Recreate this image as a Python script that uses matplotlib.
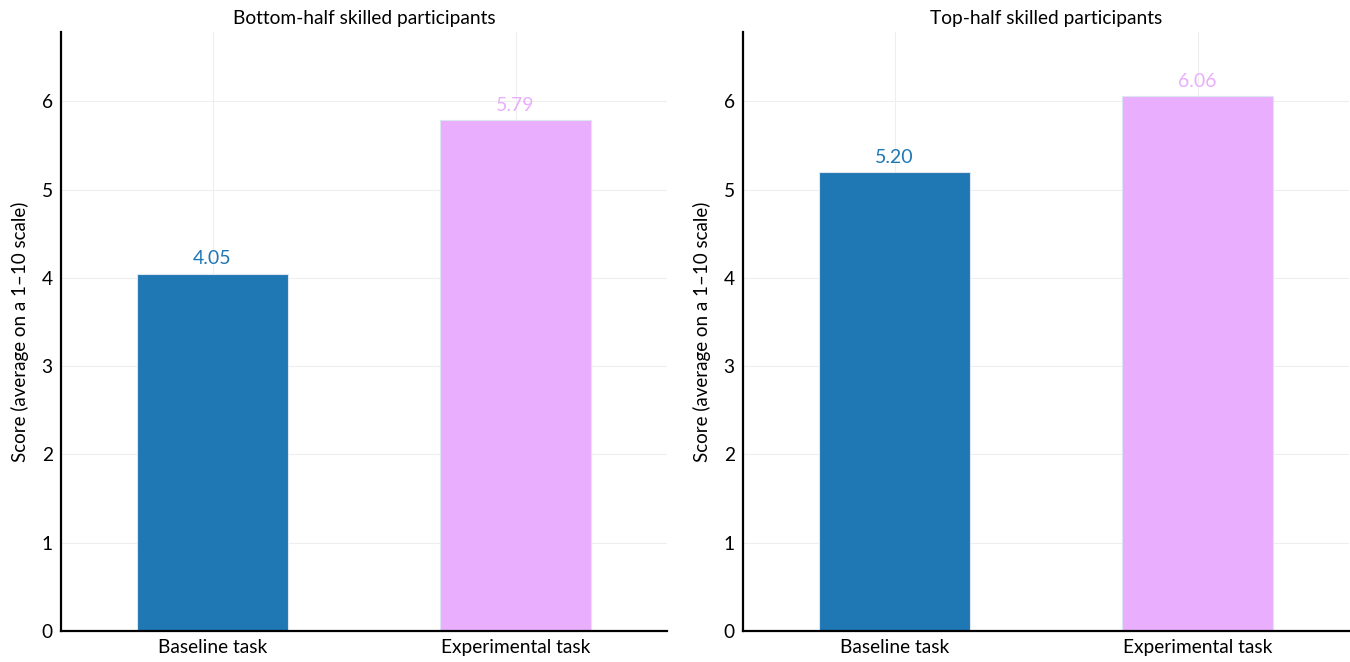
import numpy as np
import matplotlib
matplotlib.use("Agg")
import matplotlib.pyplot as plt

plt.rcParams['font.family'] = ['Lato', 'DejaVu Sans']

# data
panel_titles = ["Bottom-half skilled participants", "Top-half skilled participants"]
tasks = ["Baseline task", "Experimental task"]
bottom_scores = [4.05, 5.79]
top_scores = [5.20, 6.06]
bar_colors = ["#1f77b4", "#e9aefd"]
ylabel = "Score (average on a 1\u201310 scale)"

fig = plt.figure(figsize=(13.5, 6.62), dpi=100)
ax_l = fig.add_axes([61/1350, 1-631/662, 606/1350, 599/662])
ax_r = fig.add_axes([743/1350, 1-631/662, 606/1350, 599/662])

ymax = max(bottom_scores + top_scores) * 1.12

for ax, title, scores in zip([ax_l, ax_r], panel_titles, [bottom_scores, top_scores]):
    x = np.arange(len(tasks))
    ax.bar(x, scores, width=0.5, color=bar_colors, edgecolor="#dde6f0",
           linewidth=0.8, zorder=3)
    for xi, v, c in zip(x, scores, bar_colors):
        ax.text(xi, v + 0.07, f"{v:.2f}", ha="center", va="bottom",
                color=c, fontsize=14, zorder=4)
    ax.set_xlim(-0.5, 1.5)
    ax.set_ylim(0, ymax)
    ax.set_xticks(x)
    ax.set_xticklabels(tasks, fontsize=13.8)
    ax.set_yticks(range(0, 7))
    ax.tick_params(axis="both", length=0, labelsize=13.8, pad=6)
    ax.set_title(title, fontsize=13.8, pad=6)
    ax.set_ylabel(ylabel, fontsize=13.5, labelpad=9)
    ax.grid(True, color="#eeeeee", linewidth=0.8, zorder=0)
    ax.spines["top"].set_visible(False)
    ax.spines["right"].set_visible(False)
    ax.spines["left"].set_linewidth(1.6)
    ax.spines["bottom"].set_linewidth(1.6)
    ax.spines["left"].set_zorder(5)
    ax.spines["bottom"].set_zorder(5)

fig.savefig("out.png", dpi=100)
